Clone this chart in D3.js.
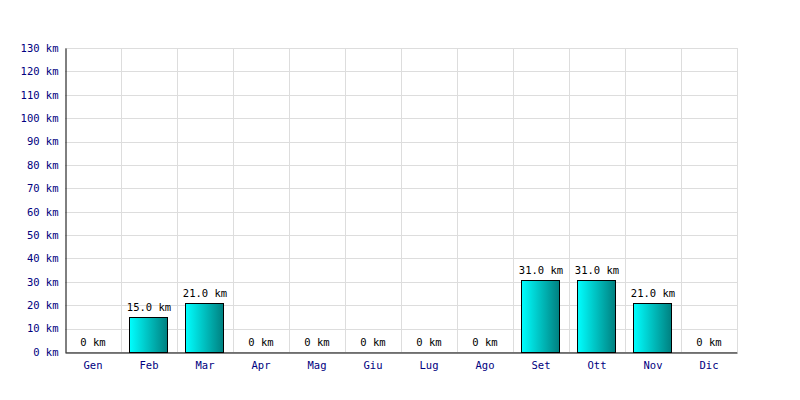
<!DOCTYPE html>
<html><head><meta charset="utf-8">
<script src="https://cdn.jsdelivr.net/npm/d3@7"></script>
<style>body{margin:0;background:#fff}svg{display:block}</style>
</head><body>
<script>
const months = ["Gen","Feb","Mar","Apr","Mag","Giu","Lug","Ago","Set","Ott","Nov","Dic"];
const values = [0,15,21,0,0,0,0,0,31,31,21,0];
const yTicks = [0,10,20,30,40,50,60,70,80,90,100,110,120,130];

const W=800,H=400, L=65, R=737, T=48, B=352;
const svg=d3.select("body").append("svg").attr("width",W).attr("height",H);
const defs=svg.append("defs");
const g=defs.append("linearGradient").attr("id","grad").attr("x1","0").attr("x2","1").attr("y1","0").attr("y2","0");
g.append("stop").attr("offset","0").attr("stop-color","#00ffff");
g.append("stop").attr("offset","1").attr("stop-color","#008080");

const x=d3.scaleBand().domain(months).range([L,R]).paddingInner(0.32).paddingOuter(0.16);
const xb=d3.scaleBand().domain(months).range([L,R]);
const y=d3.scaleLinear().domain([0,130]).range([B,T]);
const font="'DejaVu Sans Mono', monospace";
const fs=10.5;
const data=values.map((v,i)=>({m:months[i],v}));

// grid
svg.append("g").selectAll("line").data(yTicks).join("line")
 .attr("x1",L).attr("x2",R).attr("y1",d=>Math.round(y(d))+0.5).attr("y2",d=>Math.round(y(d))+0.5)
 .attr("stroke","#dddddd");
svg.append("g").selectAll("line").data(months).join("line")
 .attr("x1",d=>Math.round(xb(d)+xb.bandwidth())+0.5).attr("x2",d=>Math.round(xb(d)+xb.bandwidth())+0.5)
 .attr("y1",T).attr("y2",B).attr("stroke","#dddddd");

// bars
svg.append("g").selectAll("rect").data(data.filter(d=>d.v>0)).join("rect")
 .attr("x",d=>Math.floor(x(d.m))+0.5).attr("width",Math.round(x.bandwidth()))
 .attr("y",d=>Math.round(y(d.v))+0.5).attr("height",d=>Math.round(y(0))-Math.round(y(d.v)))
 .attr("fill","url(#grad)").attr("stroke","#000").attr("stroke-width",1);

// value labels
svg.append("g").selectAll("text").data(data).join("text")
 .attr("x",d=>xb(d.m)+xb.bandwidth()/2).attr("y",d=>y(d.v)-6)
 .attr("text-anchor","middle").attr("font-family",font).attr("font-size",fs).attr("fill","#000")
 .text(d=>d.v===0?"0 km":d.v.toFixed(1)+" km");

// axes
const ya=d3.axisLeft(y).tickValues(yTicks).tickSize(0).tickPadding(7).tickFormat(d=>d+" km");
const yg=svg.append("g").attr("transform",`translate(${L+0.5},0)`).call(ya);
yg.select(".domain").attr("stroke","#000");
yg.selectAll("text").attr("font-family",font).attr("font-size",fs).attr("fill","#000080");
const xa=d3.axisBottom(xb).tickSize(0).tickPadding(9);
const xg=svg.append("g").attr("transform",`translate(0,${B+0.5})`).call(xa);
xg.select(".domain").attr("stroke","#000");
xg.selectAll("text").attr("font-family",font).attr("font-size",fs).attr("fill","#000080");
</script>
</body></html>
